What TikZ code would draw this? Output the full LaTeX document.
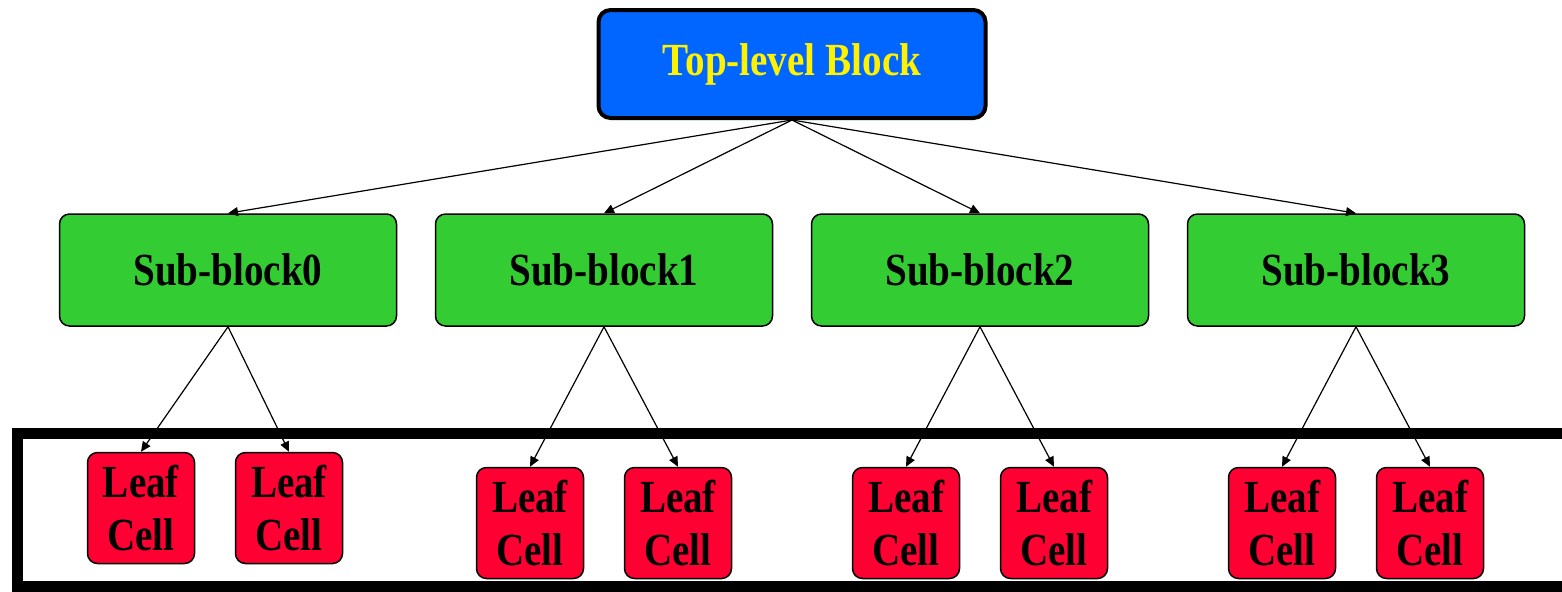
\documentclass[tikz,border=0pt]{standalone}
\usepackage{fontspec}
\newfontfamily\blockfont[FakeStretch=0.85]{Liberation Serif}
\usetikzlibrary{arrows.meta}
\definecolor{topblue}{RGB}{0,102,255}
\definecolor{subgreen}{RGB}{51,204,51}
\definecolor{leafred}{RGB}{255,0,51}
\tikzset{
  block/.style={draw, rounded corners=5pt, line width=0.75pt, align=center,
                inner sep=0pt, font=\blockfont\bfseries\fontsize{23}{26.5}\selectfont},
  topblock/.style={block, fill=topblue, text=yellow, line width=2pt,
                   rounded corners=6pt, minimum width=193.5pt, minimum height=54pt},
  subblock/.style={block, fill=subgreen, minimum width=168.5pt, minimum height=56pt},
  leafcell/.style={block, fill=leafred, minimum width=53.5pt, minimum height=55.5pt},
  link/.style={-{Triangle[length=5pt,width=4.5pt]}, line width=0.6pt}
}
\begin{document}
\begin{tikzpicture}[x=0.5pt, y=-0.5pt]
\useasboundingbox (0,0) rectangle (1562,591);
% top level and sub-blocks
\node[topblock] (top) at (792,64)  {Top-level Block};
\node[subblock] (s0)  at (228,270) {Sub-block0};
\node[subblock] (s1)  at (604,270) {Sub-block1};
\node[subblock] (s2)  at (980,270) {Sub-block2};
\node[subblock] (s3)  at (1356,270) {Sub-block3};
% leaf cells
\node[leafcell] (l0a) at (141,508)  {Leaf\\Cell};
\node[leafcell] (l0b) at (289,508)  {Leaf\\Cell};
\node[leafcell] (l1a) at (530,523)  {Leaf\\Cell};
\node[leafcell] (l1b) at (678,523)  {Leaf\\Cell};
\node[leafcell] (l2a) at (906,523)  {Leaf\\Cell};
\node[leafcell] (l2b) at (1054,523) {Leaf\\Cell};
\node[leafcell] (l3a) at (1282,523) {Leaf\\Cell};
\node[leafcell] (l3b) at (1430,523) {Leaf\\Cell};
% connections
\draw[link] (top.south) -- (s0.north);
\draw[link] (top.south) -- (s1.north);
\draw[link] (top.south) -- (s2.north);
\draw[link] (top.south) -- (s3.north);
\draw[link] (s0.south) -- (l0a.north);
\draw[link] (s0.south) -- (l0b.north);
\draw[link] (s1.south) -- (l1a.north);
\draw[link] (s1.south) -- (l1b.north);
\draw[link] (s2.south) -- (l2a.north);
\draw[link] (s2.south) -- (l2b.north);
\draw[link] (s3.south) -- (l3a.north);
\draw[link] (s3.south) -- (l3b.north);
% frame round the leaf cells
\draw[line width=5.5pt] (1562,433) -- (17,433) -- (17,586) -- (1562,586);
\end{tikzpicture}
\end{document}
